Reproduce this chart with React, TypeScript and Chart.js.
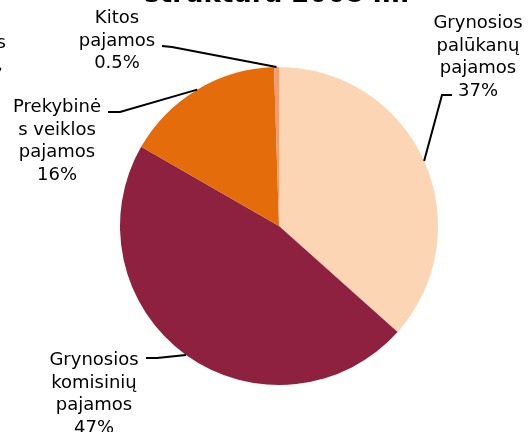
import React, { useEffect, useRef } from "react";
import { Chart, registerables } from "chart.js";

Chart.register(...registerables);

const categories = [
  "Grynosios palūkanų pajamos",
  "Grynosios komisinių pajamos",
  "Prekybinės veiklos pajamos",
  "Kitos pajamos",
];
const values = [36.6, 46.7, 16.2, 0.5];
const percentLabels = ["37%", "47%", "16%", "0.5%"];
const labelLines = [
  ["Grynosios", "palūkanų", "pajamos"],
  ["Grynosios", "komisinių", "pajamos"],
  ["Prekybinė", "s veiklos", "pajamos"],
  ["Kitos", "pajamos"],
];
const colors = ["#FCD5B5", "#8E2040", "#E46C0A", "#F89B6C"];
const titleText = "struktūra 2008 m.";

// label layout: text centre x, first baseline y, elbow point, stub end
const labelLayout = [
  { cx: 478, by: 28, elbow: [442, 95], stub: [452, 95] },
  { cx: 94, by: 365, elbow: [157, 358], stub: [146, 358] },
  { cx: 57, by: 112, elbow: [120, 112], stub: [108, 112] },
  { cx: 117, by: 23, elbow: [172, 47], stub: [162, 46] },
];

const FONT = '18px "DejaVu Sans", Verdana, sans-serif';
const LH = 22.5;

const labelPlugin = {
  id: "pieLabels",
  afterDatasetsDraw(chart: any) {
    const ctx = chart.ctx;
    const meta = chart.getDatasetMeta(0);
    ctx.save();
    // clipped title at top
    ctx.fillStyle = "#000";
    ctx.font = 'bold 26px "DejaVu Sans", Verdana, sans-serif';
    ctx.textAlign = "center";
    ctx.textBaseline = "alphabetic";
    ctx.fillText(titleText, 277, 2);
    // cut-off neighbour text at left edge
    ctx.font = FONT;
    ctx.textAlign = "right";
    ctx.fillText("s", 6, 48);
    ctx.fillText(",", 3, 70);

    meta.data.forEach((arc: any, i: number) => {
      const p = arc.getProps(["x", "y", "startAngle", "endAngle", "outerRadius"], true);
      const mid = (p.startAngle + p.endAngle) / 2;
      const ax = p.x + Math.cos(mid) * p.outerRadius;
      const ay = p.y + Math.sin(mid) * p.outerRadius;
      const L = labelLayout[i];
      ctx.strokeStyle = "#000";
      ctx.lineWidth = 2;
      ctx.beginPath();
      ctx.moveTo(ax, ay);
      ctx.lineTo(L.elbow[0], L.elbow[1]);
      ctx.lineTo(L.stub[0], L.stub[1]);
      ctx.stroke();
      ctx.fillStyle = "#000";
      ctx.font = FONT;
      ctx.textAlign = "center";
      const lines = [...labelLines[i], percentLabels[i]];
      lines.forEach((t, k) => ctx.fillText(t, L.cx, L.by + k * LH));
    });
    ctx.restore();
  },
};

export default function App() {
  const ref = useRef<HTMLCanvasElement | null>(null);
  useEffect(() => {
    if (!ref.current) return;
    const chart = new Chart(ref.current, {
      type: "pie",
      data: {
        labels: categories,
        datasets: [
          {
            data: values,
            backgroundColor: colors,
            borderWidth: 0,
          },
        ],
      },
      options: {
        animation: false,
        responsive: false,
        devicePixelRatio: 1,
        layout: { padding: { top: 67, bottom: 47, left: 120, right: 90 } },
        plugins: {
          legend: { display: false },
          tooltip: { enabled: false },
          title: { display: false },
        },
      },
      plugins: [labelPlugin],
    });
    return () => chart.destroy();
  }, []);
  return (
    <div style={{ position: "fixed", left: 0, top: 0, width: 528, height: 432, background: "#fff" }}>
      <canvas ref={ref} width={528} height={432} />
    </div>
  );
}
